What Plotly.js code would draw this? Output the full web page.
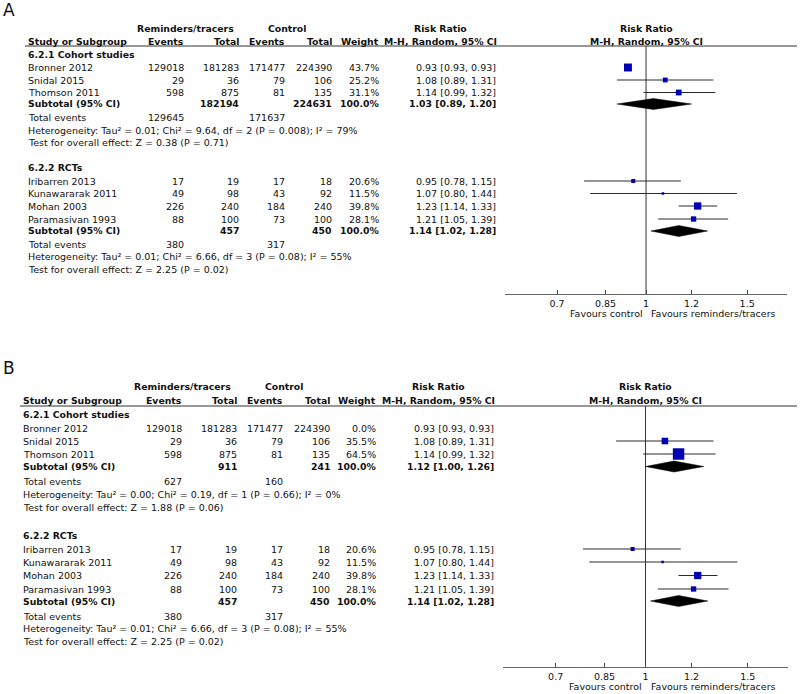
<!DOCTYPE html>
<html>
<head>
<meta charset="utf-8">
<script src="https://cdn.plot.ly/plotly-3.0.1.min.js"></script>
<style>
  html, body { margin: 0; padding: 0; background: #ffffff; }
  #chart { width: 800px; height: 694px; }
</style>
</head>
<body>
<div id="chart"></div>
<script>
// ---------------- DATA ----------------
const cohortStudies      = ["Bronner 2012", "Snidal 2015", "Thomson 2011"];
const cohortExpEvents    = [129018, 29, 598];
const cohortExpTotal     = [181283, 36, 875];
const cohortCtrlEvents   = [171477, 79, 81];
const cohortCtrlTotal    = [224390, 106, 135];
const cohortRR           = [0.93, 1.08, 1.14];
const cohortLo           = [0.93, 0.89, 0.99];
const cohortHi           = [0.93, 1.31, 1.32];
const cohortWeightA      = [43.7, 25.2, 31.1];
const cohortWeightB      = [0.0, 35.5, 64.5];

const rctStudies         = ["Iribarren 2013", "Kunawararak 2011", "Mohan 2003", "Paramasivan 1993"];
const rctExpEvents       = [17, 49, 226, 88];
const rctExpTotal        = [19, 98, 240, 100];
const rctCtrlEvents      = [17, 43, 184, 73];
const rctCtrlTotal       = [18, 92, 240, 100];
const rctRR              = [0.95, 1.07, 1.23, 1.21];
const rctLo              = [0.78, 0.80, 1.14, 1.05];
const rctHi              = [1.15, 1.44, 1.33, 1.39];
const rctWeight          = [20.6, 11.5, 39.8, 28.1];

// subtotals: [expTotal, ctrlTotal, weight, RR, lo, hi, expEvents, ctrlEvents]
const cohortSubtotalA    = [182194, 224631, 100.0, 1.03, 0.89, 1.20, 129645, 171637];
const cohortSubtotalB    = [911, 241, 100.0, 1.12, 1.00, 1.26, 627, 160];
const rctSubtotal        = [457, 450, 100.0, 1.14, 1.02, 1.28, 380, 317];

const cohortHetA  = "Heterogeneity: Tau² = 0.01; Chi² = 9.64, df = 2 (P = 0.008); I² = 79%";
const cohortTestA = "Test for overall effect: Z = 0.38 (P = 0.71)";
const cohortHetB  = "Heterogeneity: Tau² = 0.00; Chi² = 0.19, df = 1 (P = 0.66); I² = 0%";
const cohortTestB = "Test for overall effect: Z = 1.88 (P = 0.06)";
const rctHet      = "Heterogeneity: Tau² = 0.01; Chi² = 6.66, df = 3 (P = 0.08); I² = 55%";
const rctTest     = "Test for overall effect: Z = 2.25 (P = 0.02)";

const tickVals   = [0.7, 0.85, 1, 1.2, 1.5];
const tickLabels = ["0.7", "0.85", "1", "1.2", "1.5"];
const axisMin = 0.568, axisMax = 1.76;

// ---------------- LAYOUT HELPERS ----------------
const W = 800, H = 694;
const FONT = "DejaVu Sans, Verdana, sans-serif";
const TXT = "#111111";
const REG = 9.5, BOLD = 9.3;
const traces = [];
const annotations = [];
const shapes = [];

function fmtRR(r, l, h) { return r.toFixed(2) + " [" + l.toFixed(2) + ", " + h.toFixed(2) + "]"; }
function fmtW(w) { return w.toFixed(1) + "%"; }
function sq(w) { return w > 0 ? 0.6 + 0.168 * w : 0; }

// all text positioned in paper coordinates (pixels converted)
function txt(xpx, ypx, text, anchor, bold, size) {
  annotations.push({
    xref: "paper", yref: "paper", x: xpx / W, y: 1 - ypx / H,
    text: bold ? "<b>" + text + "</b>" : text,
    showarrow: false, xanchor: anchor || "left", yanchor: "middle",
    borderpad: 0,
    font: { family: FONT, size: size || (bold ? BOLD : REG), color: TXT }
  });
}

function buildPanel(P) {
  const xa = P.xaxis;
  const C = P.col;
  txt(P.labelX, P.labelY, P.label, "left", false, 17);
  txt(C.grp1, P.hdr1, "Reminders/tracers", "center", true);
  txt(C.grp2, P.hdr1, "Control", "center", true);
  txt(C.rrc, P.hdr1, "Risk Ratio", "center", true);
  txt(C.plotc, P.hdr1, "Risk Ratio", "center", true);
  txt(C.name, P.hdr2, "Study or Subgroup", "left", true);
  txt(C.ee, P.hdr2, "Events", "right", true);
  txt(C.et, P.hdr2, "Total", "right", true);
  txt(C.ce, P.hdr2, "Events", "right", true);
  txt(C.ct, P.hdr2, "Total", "right", true);
  txt(C.w, P.hdr2, "Weight", "right", true);
  txt(C.rrc, P.hdr2, "M-H, Random, 95% CI", "center", true);
  txt(C.plotc, P.hdr2, "M-H, Random, 95% CI", "center", true);
  shapes.push({ type: "line", xref: "paper", yref: "paper", x0: P.lineX0 / W, x1: P.lineX1 / W,
    y0: 1 - P.line / H, y1: 1 - P.line / H, line: { color: "#333333", width: 1.2 } });

  traces.push({ type: "scatter", mode: "lines", x: [1, 1], y: [P.line, P.bottom],
    xaxis: xa, yaxis: P.yaxis, line: { color: "#333333", width: 1 }, hoverinfo: "skip", showlegend: false });

  P.groups.forEach(function (G) {
    txt(C.name, G.hdrY, G.title, "left", true);
    const ciX = [], ciY = [];
    G.names.forEach(function (nm, i) {
      const y = G.rows[i];
      txt(C.name, y, nm, "left", false);
      txt(C.ee, y, String(G.ee[i]), "right", false);
      txt(C.et, y, String(G.et[i]), "right", false);
      txt(C.ce, y, String(G.ce[i]), "right", false);
      txt(C.ct, y, String(G.ct[i]), "right", false);
      txt(C.w, y, fmtW(G.w[i]), "right", false);
      txt(C.rr, y, fmtRR(G.rr[i], G.lo[i], G.hi[i]), "right", false);
      if (G.w[i] > 0 && G.hi[i] > G.lo[i]) {
        ciX.push(G.lo[i], G.hi[i], null);
        ciY.push(y, y, null);
      }
    });
    traces.push({ type: "scatter", mode: "lines", x: ciX, y: ciY, xaxis: xa, yaxis: P.yaxis,
      line: { color: "#2a2a2a", width: 1 }, hoverinfo: "skip", showlegend: false });
    traces.push({ type: "scatter", mode: "markers", x: G.rr, y: G.rows, xaxis: xa, yaxis: P.yaxis,
      marker: { symbol: "square", size: G.w.map(sq), color: "#0000b4", opacity: 1, line: { width: 0 } },
      hoverinfo: "skip", showlegend: false });

    const S = G.sub;
    txt(C.name, G.subY, "Subtotal (95% CI)", "left", true);
    txt(C.et, G.subY, String(S[0]), "right", true);
    txt(C.ct, G.subY, String(S[1]), "right", true);
    txt(C.w, G.subY, fmtW(S[2]), "right", true);
    txt(C.rr, G.subY, fmtRR(S[3], S[4], S[5]), "right", true);
    const h = P.dh;
    traces.push({ type: "scatter", mode: "lines", fill: "toself", fillcolor: "#000000",
      x: [S[4], S[3], S[5], S[3], S[4]],
      y: [G.subY, G.subY - h, G.subY, G.subY + h, G.subY],
      xaxis: xa, yaxis: P.yaxis, line: { color: "#000000", width: 0.5 }, hoverinfo: "skip", showlegend: false });

    txt(C.name, G.totY, "Total events", "left", false);
    txt(C.ee, G.totY, String(S[6]), "right", false);
    txt(C.ce, G.totY, String(S[7]), "right", false);
    txt(C.name, G.hetY, G.het, "left", false);
    txt(C.name, G.testY, G.test, "left", false);
  });

  txt(C.favL, P.fav, "Favours control", "right", false);
  txt(C.favR, P.fav, "Favours reminders/tracers", "left", false);
}

const colA = { name: 27, ee: 185, et: 240.5, ce: 286, ct: 333, w: 379.5, rr: 496.5,
  grp1: 185, grp2: 287, rrc: 440.5, plotc: 646, favL: 644, favR: 650 };
const colB = { name: 22, ee: 183, et: 238.5, ce: 284, ct: 330.5, w: 376.5, rr: 494.5,
  grp1: 182, grp2: 284, rrc: 438.5, plotc: 645.5, favL: 643, favR: 649.5 };

const panelA = {
  label: "A", labelX: 2, labelY: 10, yaxis: "y", xaxis: "x",
  top: 0, bottom: 294, hdr1: 28, hdr2: 41, line: 46, lineX0: 25, lineX1: 797, dh: 5.5, fav: 313,
  col: colA,
  groups: [
    { title: "6.2.1 Cohort studies", hdrY: 54.5, rows: [67.5, 80, 92.5], subY: 104, totY: 118, hetY: 130.5, testY: 142.5,
      names: cohortStudies, ee: cohortExpEvents, et: cohortExpTotal, ce: cohortCtrlEvents, ct: cohortCtrlTotal,
      w: cohortWeightA, rr: cohortRR, lo: cohortLo, hi: cohortHi, sub: cohortSubtotalA, het: cohortHetA, test: cohortTestA },
    { title: "6.2.2 RCTs", hdrY: 167, rows: [181, 193.5, 206, 219], subY: 231, totY: 245, hetY: 257, testY: 269.5,
      names: rctStudies, ee: rctExpEvents, et: rctExpTotal, ce: rctCtrlEvents, ct: rctCtrlTotal,
      w: rctWeight, rr: rctRR, lo: rctLo, hi: rctHi, sub: rctSubtotal, het: rctHet, test: rctTest }
  ]
};
const panelB = {
  label: "B", labelX: 2, labelY: 368, yaxis: "y2", xaxis: "x2",
  top: 330, bottom: 667, hdr1: 386, hdr2: 400, line: 406, lineX0: 20, lineX1: 797, dh: 5.5, fav: 686,
  col: colB,
  groups: [
    { title: "6.2.1 Cohort studies", hdrY: 414, rows: [428, 441, 454], subY: 466.5, totY: 481.5, hetY: 494, testY: 507,
      names: cohortStudies, ee: cohortExpEvents, et: cohortExpTotal, ce: cohortCtrlEvents, ct: cohortCtrlTotal,
      w: cohortWeightB, rr: cohortRR, lo: cohortLo, hi: cohortHi, sub: cohortSubtotalB, het: cohortHetB, test: cohortTestB },
    { title: "6.2.2 RCTs", hdrY: 535, rows: [549, 562, 575.5, 589], subY: 601, totY: 616, hetY: 628.5, testY: 641,
      names: rctStudies, ee: rctExpEvents, et: rctExpTotal, ce: rctCtrlEvents, ct: rctCtrlTotal,
      w: rctWeight, rr: rctRR, lo: rctLo, hi: rctHi, sub: rctSubtotal, het: rctHet, test: rctTest }
  ]
};

buildPanel(panelA);
buildPanel(panelB);

function xAxis(x0, x1, anchor) {
  return {
    type: "log", domain: [x0 / W, x1 / W], anchor: anchor,
    range: [Math.log10(axisMin), Math.log10(axisMax)],
    tickvals: tickVals, ticktext: tickLabels,
    ticks: "inside", ticklen: 4, tickcolor: "#444444", tickwidth: 1,
    showline: true, linecolor: "#666666", linewidth: 1.2,
    showgrid: false, zeroline: false, fixedrange: true,
    tickfont: { family: FONT, size: 9.5, color: TXT }
  };
}
function yAxis(P, anchor) {
  return {
    domain: [1 - P.bottom / H, 1 - P.top / H], range: [P.bottom, P.top],
    visible: false, showgrid: false, zeroline: false, fixedrange: true, anchor: anchor
  };
}

const layout = {
  width: W, height: H,
  margin: { l: 0, r: 0, t: 0, b: 0, pad: 0 },
  paper_bgcolor: "#ffffff", plot_bgcolor: "rgba(0,0,0,0)",
  showlegend: false,
  xaxis: xAxis(505, 787, "y"),
  yaxis: yAxis(panelA, "x"),
  xaxis2: xAxis(503, 788, "y2"),
  yaxis2: yAxis(panelB, "x2"),
  annotations: annotations,
  shapes: shapes
};

Plotly.newPlot("chart", traces, layout, { displayModeBar: false, staticPlot: true });
</script>
</body>
</html>
